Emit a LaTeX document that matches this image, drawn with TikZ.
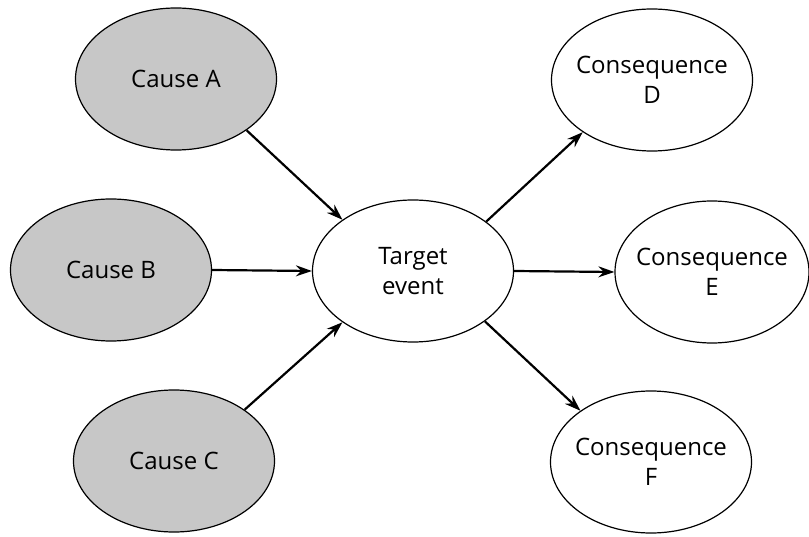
\documentclass[tikz,border=0pt]{standalone}
\usepackage{fontspec}
\setmainfont{Open Sans}
\usetikzlibrary{shapes.geometric,arrows.meta}
\begin{document}
\begin{tikzpicture}[x=1pt,y=-1pt,
  oval/.style={ellipse,draw=black,line width=1.2pt,minimum width=201pt,minimum height=142pt,inner xsep=-25pt,inner ysep=0pt,align=center,font=\fontsize{24}{30}\selectfont,text=black},
  cause/.style={oval,fill=black!22},
  effect/.style={oval,fill=white},
  link/.style={line width=2.2pt,-{Stealth[length=16pt,width=11pt]}}]
\useasboundingbox (0,0) rectangle (809,537);
\node[cause] (a) at (176,79) {Cause A};
\node[cause] (b) at (111,270) {Cause B};
\node[cause] (c) at (174,461) {Cause C};
\node[effect] (t) at (413,271) {Target\\event};
\node[effect] (d) at (652,80) {Consequence\\D};
\node[effect,minimum width=194pt] (e) at (712,272) {Consequence\\E};
\node[effect] (f) at (651,462) {Consequence\\F};
\draw[link] (a.-36) -- (t.144);
\draw[link] (b.east) -- (t.west);
\draw[link] (c.36) -- (t.-144);
\draw[link] (t.34) -- (d.-143);
\draw[link] (t.east) -- (e.west);
\draw[link] (t.-35) -- (f.144);
\end{tikzpicture}
\end{document}
